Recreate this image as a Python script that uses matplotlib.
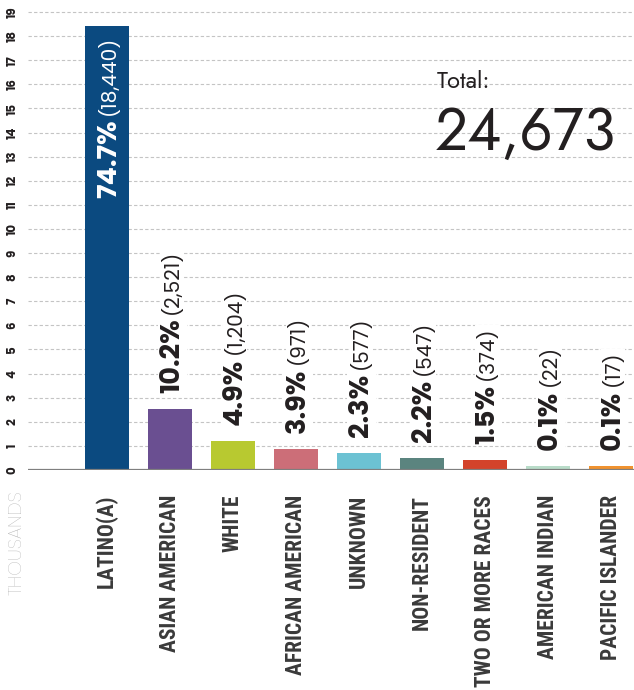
import matplotlib
matplotlib.use("Agg")
import matplotlib.pyplot as plt
import numpy as np
from matplotlib.transforms import offset_copy

# ---------------------------------------------------------------------------
# Data
# ---------------------------------------------------------------------------
categories = ["LATINO(A)", "ASIAN AMERICAN", "WHITE", "AFRICAN AMERICAN",
              "UNKNOWN", "NON-RESIDENT", "TWO OR MORE RACES",
              "AMERICAN INDIAN", "PACIFIC ISLANDER"]
percents = ["74.7%", "10.2%", "4.9%", "3.9%", "2.3%", "2.2%", "1.5%",
            "0.1%", "0.1%"]
counts = [18440, 2521, 1204, 971, 577, 547, 374, 22, 17]
# bar heights as drawn (thousands) - small bars are slightly exaggerated
bar_heights = [18.44, 2.52, 1.20, 0.87, 0.70, 0.50, 0.41, 0.17, 0.17]
total = 24673
yticks = list(range(20))

colors = ["#0b4a80", "#6a4f91", "#b8c930", "#cc6e78", "#6cc2d3",
          "#5b847f", "#d3432b", "#b9dcc9", "#f0922f"]

TEXT = "#231f20"
LABEL = "#3a3a3a"
W, H = 634, 690

fig = plt.figure(figsize=(W / 100, H / 100), dpi=100)
ax = fig.add_axes([28 / W, 220 / H, 606 / W, 467.6 / H])

x = np.arange(len(categories))
ax.bar(x, bar_heights, width=0.7, color=colors, zorder=2)
ax.set_xlim(-1.254, 8.365)
ax.set_ylim(0, 19.4)

ax.set_yticks(yticks)
ax.set_yticklabels([str(t) for t in yticks], rotation=90, fontsize=8.5,
                   fontweight="bold", family="Poppins", color=TEXT,
                   va="center", ha="right")
ax.yaxis.grid(True, ls=(0, (3, 2)), color="#c4c4c4", lw=0.8)
ax.set_axisbelow(True)
ax.axhline(0, color="#7f7f7f", lw=1.6, zorder=3)
for s in ax.spines.values():
    s.set_visible(False)
ax.tick_params(length=0)
ax.tick_params(axis="y", pad=7)

ax.set_xticks(x)
ax.set_xticklabels(categories, rotation=90, fontsize=15.5, fontweight="bold",
                   color=LABEL, family="Roboto Condensed")
ax.tick_params(axis="x", pad=18)

# ---------------------------------------------------------------------------
# Value labels: bold percent + smaller count, rotated
# ---------------------------------------------------------------------------
fig.canvas.draw()
renderer = fig.canvas.get_renderer()

BASE_DX = 9    # baseline sits right of bar centre (pixels)
GAP = 5
for i, (pct, cnt, h) in enumerate(zip(percents, counts, bar_heights)):
    inside = i == 0
    col = "white" if inside else TEXT
    box = None if inside else dict(facecolor="white", edgecolor="none", pad=1)
    t1 = ax.text(x[i], h, pct, rotation=90, rotation_mode="anchor",
                 ha="left", va="baseline", fontsize=19.5, fontweight="bold",
                 family="Poppins", color=col, bbox=box, zorder=4)
    t2 = ax.text(x[i], h, f"({cnt:,})", rotation=90, rotation_mode="anchor",
                 ha="left", va="baseline", fontsize=14.5, family="Poppins",
                 color=col, bbox=box, zorder=4)
    l1 = t1.get_window_extent(renderer).height
    l2 = t2.get_window_extent(renderer).height
    if inside:
        start = -10 - (l1 + GAP + l2)
    else:
        start = 16
    t1.set_transform(offset_copy(ax.transData, fig, x=BASE_DX, y=start,
                                 units="dots"))
    t2.set_transform(offset_copy(ax.transData, fig, x=BASE_DX - 1,
                                 y=start + l1 + GAP, units="dots"))

# ---------------------------------------------------------------------------
# Annotations
# ---------------------------------------------------------------------------
fig.text(22 / W, 1 - 490 / H, "THOUSANDS", rotation=90, rotation_mode="anchor",
         ha="right", va="baseline", fontsize=13.5, color="#ababab",
         family="Poppins", fontweight="light")
fig.text(437 / W, 1 - 88 / H, "Total:", ha="left", va="baseline", fontsize=17,
         color=TEXT, family="Jost")
fig.text(435 / W, 1 - 150 / H, f"{total:,}", ha="left", va="baseline",
         fontsize=42, color=TEXT, family="Jost")

fig.savefig("out.png", dpi=100)
